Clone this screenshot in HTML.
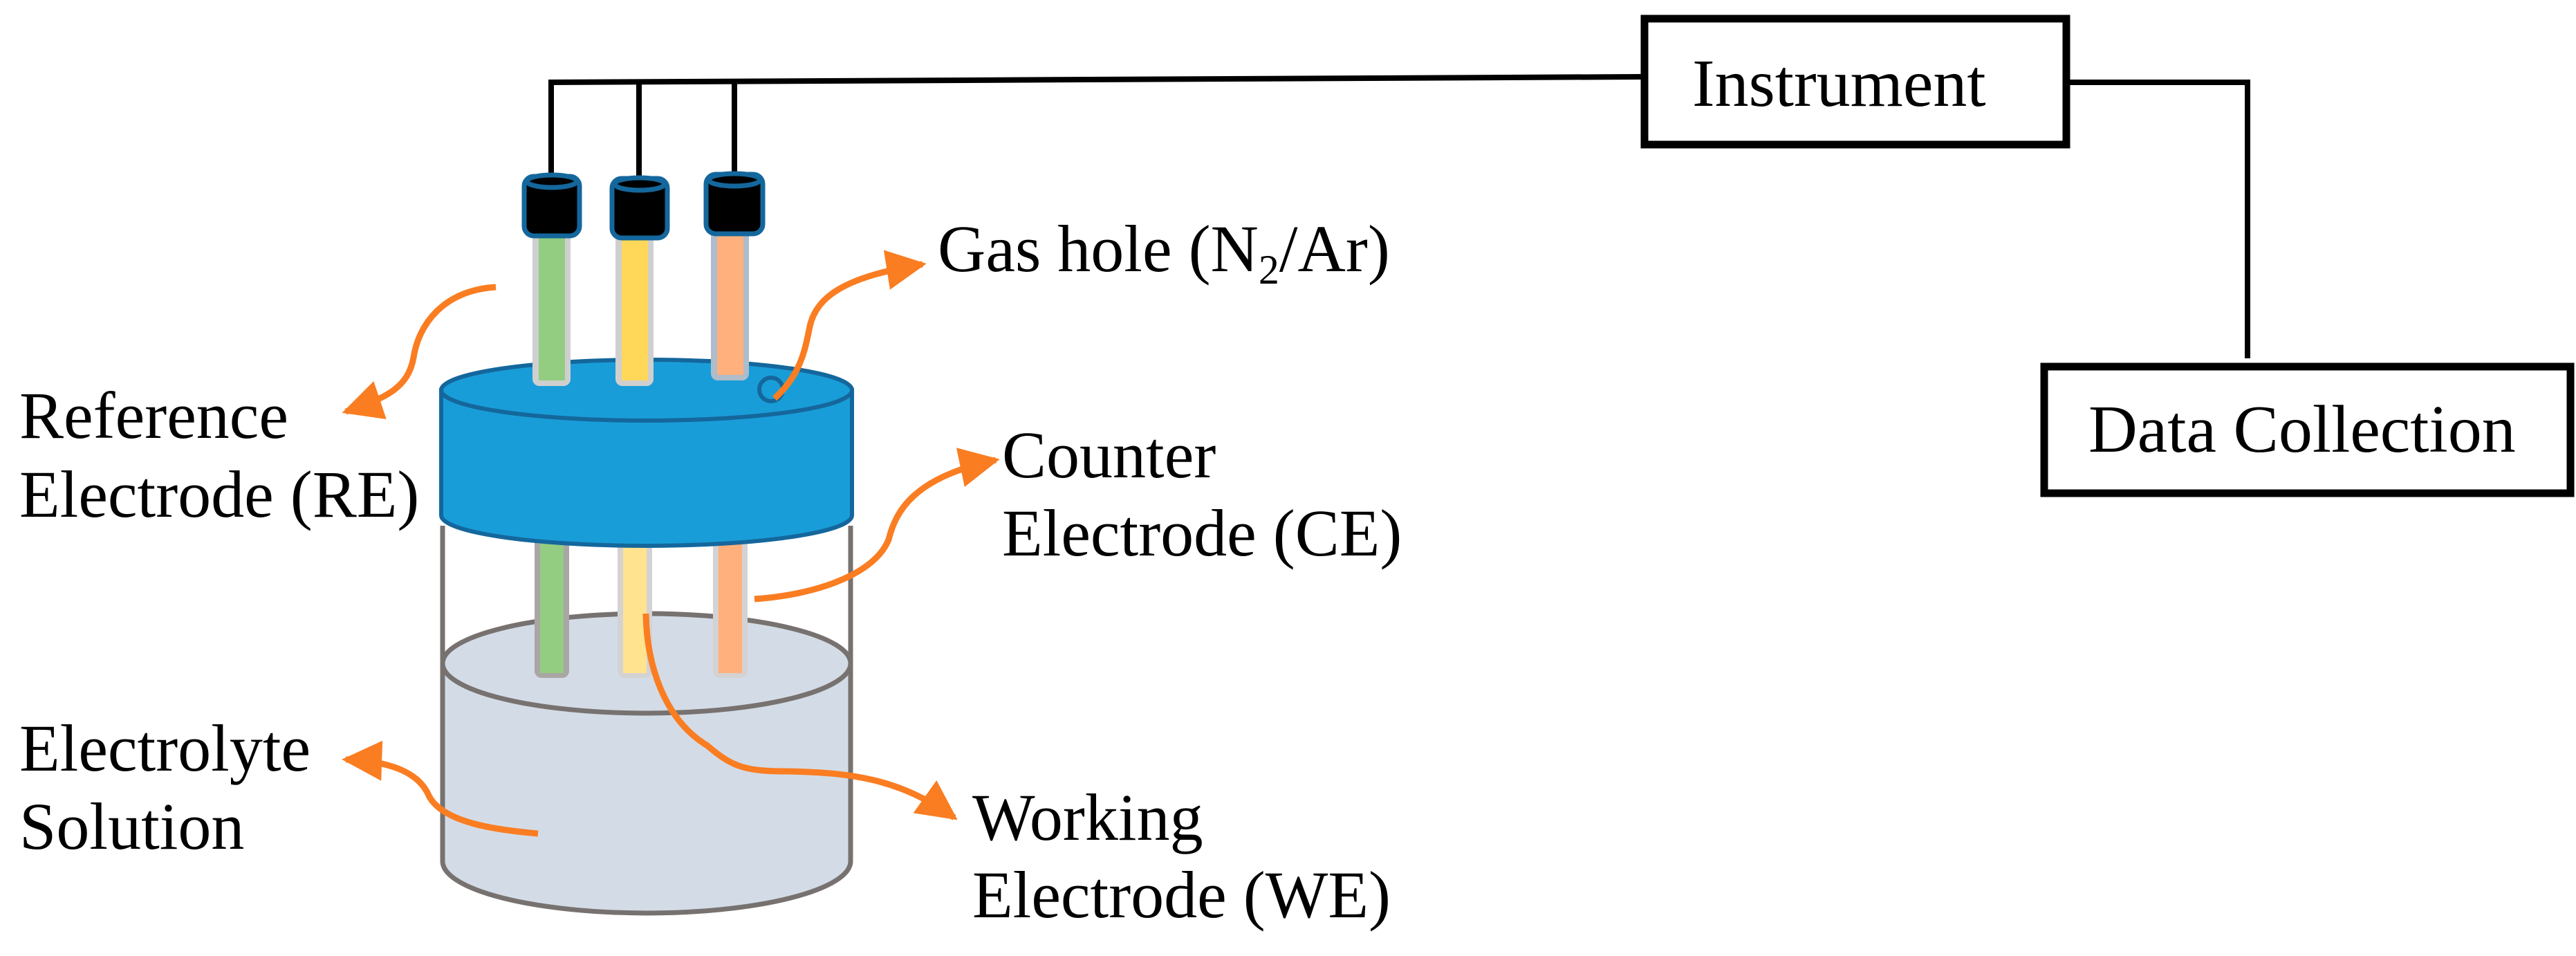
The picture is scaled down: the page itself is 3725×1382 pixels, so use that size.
<!DOCTYPE html>
<html><head><meta charset="utf-8"><style>
html,body{margin:0;padding:0;background:#fff;}
svg{display:block;}
svg text{font-family:"Liberation Serif","Times New Roman",Times,serif !important;}
</style></head><body>
<svg width="3725" height="1382" viewBox="0 0 3725 1382" xmlns="http://www.w3.org/2000/svg">
<defs>
<marker id="ah" viewBox="0 0 10 10" markerUnits="userSpaceOnUse" markerWidth="62" markerHeight="58" refX="9" refY="5" orient="auto">
<path d="M0,0 L10,5 L0,10 Z" fill="#fa7d22"/>
</marker>
</defs>

<polyline points="797,251 797,119 2373,111" fill="none" stroke="#000" stroke-width="8"/>
<line x1="924" y1="117" x2="924" y2="255" stroke="#000" stroke-width="8"/>
<line x1="1062" y1="116" x2="1062" y2="250" stroke="#000" stroke-width="8"/>
<polyline points="2992,119 3250,119 3250,518" fill="none" stroke="#000" stroke-width="8"/>

<rect x="2378" y="27" width="610" height="182" fill="#fff" stroke="#000" stroke-width="11"/>
<text x="2447" y="153" font-size="98" style="font-family:'Liberation Serif',serif">Instrument</text>
<rect x="2956" y="530" width="761" height="183" fill="#fff" stroke="#000" stroke-width="11"/>
<text x="3020" y="653" font-size="98" style="font-family:'Liberation Serif',serif">Data Collection</text>

<path d="M640,959 L640,1245 A295,75 0 0 0 1230,1245 L1230,959 Z" fill="#d3dce6"/>
<ellipse cx="935" cy="959" rx="295" ry="72" fill="#d3dce6" stroke="#777270" stroke-width="7"/>
<line x1="640" y1="760" x2="640" y2="1245" stroke="#777270" stroke-width="7"/>
<line x1="1230" y1="760" x2="1230" y2="1245" stroke="#777270" stroke-width="7"/>
<path d="M640,1245 A295,75 0 0 0 1230,1245" fill="none" stroke="#777270" stroke-width="7"/>

<rect x="773" y="770" width="50" height="210" rx="10" fill="#a9a6a5"/>
<rect x="781" y="770" width="34" height="203" fill="#92cd82"/>
<rect x="893" y="770" width="50" height="210" rx="10" fill="#d4d2d2"/>
<rect x="901" y="770" width="34" height="203" fill="#ffe38f"/>
<rect x="1031" y="770" width="50" height="210" rx="10" fill="#d4d2d2"/>
<rect x="1039" y="770" width="34" height="203" fill="#ffb07c"/>

<path d="M638,564 L638,745 A297,44 0 0 0 1232,745 L1232,564 Z" fill="#199dd8" stroke="#14679c" stroke-width="6"/>
<ellipse cx="935" cy="564" rx="297" ry="44" fill="#199dd8" stroke="#14679c" stroke-width="6"/>

<rect x="770" y="330" width="55" height="228" rx="10" fill="#d0cfcf"/>
<rect x="779" y="330" width="38" height="220" fill="#92cd82"/>
<rect x="890" y="330" width="55" height="228" rx="10" fill="#d0cfcf"/>
<rect x="899" y="330" width="38" height="220" fill="#ffd85a"/>
<rect x="1028" y="330" width="55" height="220" rx="10" fill="#aebccb"/>
<rect x="1037" y="330" width="38" height="212" fill="#ffb07c"/>

<g stroke="#14679c" stroke-width="7" fill="#000">
<rect x="758" y="255" width="80" height="86" rx="14"/>
<ellipse cx="798" cy="262" rx="36" ry="9"/>
<rect x="885" y="258" width="80" height="86" rx="14"/>
<ellipse cx="925" cy="266" rx="36" ry="9"/>
<rect x="1021" y="252" width="82" height="86" rx="14"/>
<ellipse cx="1062" cy="260" rx="37" ry="9"/>
</g>

<circle cx="1115" cy="563" r="17" fill="none" stroke="#14679c" stroke-width="6"/>

<g fill="none" stroke="#fa7d22" stroke-width="9">
<path d="M717,415 C640,420 605,470 598,517 C590,560 560,575 500,595" marker-end="url(#ah)"/>
<path d="M1120,576 C1160,540 1165,500 1171,472 C1180,430 1220,400 1334,382" marker-end="url(#ah)"/>
<path d="M1091,866 C1180,860 1265,830 1285,780 C1295,740 1320,690 1440,665" marker-end="url(#ah)"/>
<path d="M934,887 C935,960 960,1040 1023,1078 C1060,1110 1080,1115 1140,1115 C1230,1117 1300,1125 1380,1182" marker-end="url(#ah)"/>
<path d="M778,1205 C720,1200 640,1190 620,1150 C605,1115 560,1100 500,1098" marker-end="url(#ah)"/>
</g>

<g font-size="96" fill="#000" style="font-family:'Liberation Serif',serif">
<text x="28" y="633">Reference</text>
<text x="28" y="747">Electrode (RE)</text>
<text x="1356" y="392">Gas hole (N<tspan font-size="60" dy="18">2</tspan><tspan dy="-18">/Ar)</tspan></text>
<text x="1449" y="690">Counter</text>
<text x="1449" y="803">Electrode (CE)</text>
<text x="28" y="1114">Electrolyte</text>
<text x="28" y="1227">Solution</text>
<text x="1406" y="1214">Working</text>
<text x="1406" y="1326">Electrode (WE)</text>
</g>
</svg>
</body></html>
